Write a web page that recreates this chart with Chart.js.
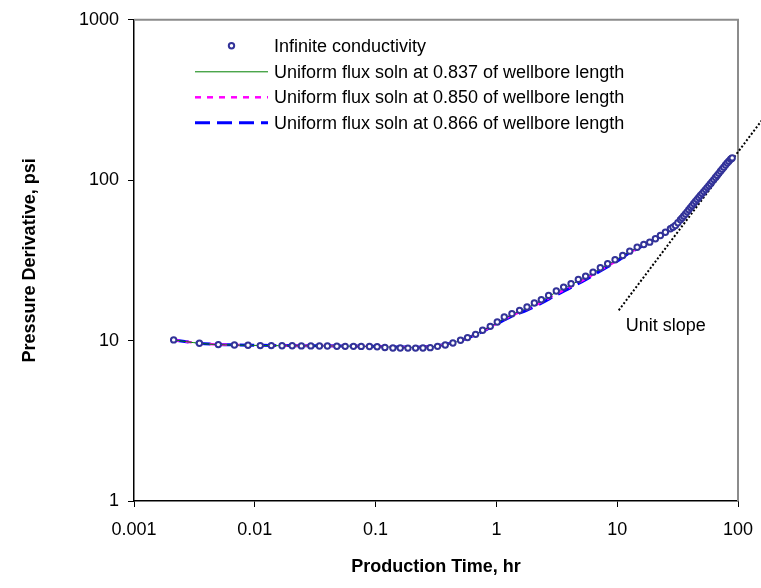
<!DOCTYPE html>
<html>
<head>
<meta charset="utf-8">
<title>Pressure derivative vs production time</title>
<script src="https://cdn.jsdelivr.net/npm/chart.js@4.4.1/dist/chart.umd.min.js"></script>
<style>
  body { margin: 0; background: #fff; }
  #derivChart { display: block; }
</style>
</head>
<body>
<canvas id="derivChart" width="761" height="588"></canvas>
<script>
  // Infinite conductivity solution (hr, psi)
  const infTime = [
    0.00213, 0.00348, 0.00499, 0.00678, 0.00879, 0.0111, 0.0137, 0.0168, 0.0204, 0.0243,
    0.0291, 0.0343, 0.0399, 0.0478, 0.0560, 0.0656, 0.0760, 0.0890, 0.1030, 0.1194,
    0.1391, 0.1600, 0.1853, 0.2143, 0.2466, 0.2833, 0.3258, 0.3773, 0.4365, 0.5047,
    0.5768, 0.6730, 0.7691, 0.8898, 1.017, 1.162, 1.345, 1.556, 1.793, 2.062,
    2.355, 2.706, 3.133, 3.603, 4.150, 4.768, 5.478, 6.310, 7.253, 8.337,
    9.601, 11.11, 12.70, 14.63, 16.60, 18.59, 20.72, 22.79, 25.06, 27.59,
    28.95, 30.35, 31.80, 33.39, 34.46, 35.56, 36.73, 37.94, 39.16, 40.42,
    41.70, 43.03, 44.45, 45.92, 47.37, 48.87, 50.45, 52.08, 53.80, 55.58,
    57.35, 59.17, 61.08, 63.06, 65.12, 67.25, 69.40, 71.62, 73.93, 76.32,
    78.82, 81.41, 84.01, 86.70, 88.10, 89.54
  ];
  const infDeriv = [
    10.1, 9.62, 9.44, 9.39, 9.35, 9.31, 9.31, 9.28, 9.28, 9.27,
    9.27, 9.26, 9.26, 9.22, 9.21, 9.21, 9.20, 9.18, 9.15, 9.05,
    9.00, 8.99, 8.98, 8.98, 8.99, 9.04, 9.21, 9.39, 9.66, 10.04,
    10.44, 10.94, 11.59, 12.27, 13.06, 14.02, 14.72, 15.44, 16.19, 17.14,
    17.99, 19.14, 20.36, 21.56, 22.63, 24.07, 25.23, 26.72, 28.47, 30.14,
    31.92, 33.95, 36.12, 38.23, 39.73, 41.09, 43.13, 45.19, 47.42, 49.77,
    50.9, 52.19, 54.3, 56.62, 58.2, 59.8, 61.6, 63.5, 65.5, 67.5,
    69.4, 71.5, 73.7, 75.8, 78.0, 80.2, 82.5, 84.9, 87.4, 89.9,
    92.5, 95.2, 98.0, 100.9, 104.0, 107.1, 110.3, 113.6, 117.0, 120.6,
    124.3, 128.1, 131.4, 134.9, 136.3, 137.7
  ];

  // Uniform flux solutions at three points along the wellbore
  const fluxTime = [
    0.00213, 0.00348, 0.005, 0.0088, 0.0137, 0.0243, 0.04, 0.065, 0.103, 0.16,
    0.2466, 0.3258, 0.4365, 0.577, 0.769, 1.017, 1.345, 1.793, 2.355, 3.133,
    4.15, 5.478, 7.253, 9.6, 12.7, 16.6, 22.79, 30.35, 40.42, 52.08,
    67.25, 89.54
  ];
  const flux837 = [
    10.1, 9.62, 9.44, 9.35, 9.31, 9.28, 9.26, 9.23, 9.17, 9.08,
    9.07, 9.25, 9.68, 10.42, 11.52, 12.95, 14.55, 16.0, 17.75, 20.05,
    22.3, 24.85, 28.1, 31.6, 35.9, 39.6, 45.1, 52.1, 67.4, 84.8,
    107.0, 137.5
  ];
  const flux850 = [
    10.1, 9.62, 9.45, 9.36, 9.32, 9.29, 9.27, 9.24, 9.18, 9.1,
    9.1, 9.28, 9.7, 10.4, 11.45, 12.85, 14.35, 15.7, 17.35, 19.55,
    21.75, 24.3, 27.5, 31.0, 35.5, 39.4, 45.0, 52.0, 67.3, 84.7,
    106.9, 137.4
  ];
  const flux866 = [
    10.1, 9.63, 9.46, 9.37, 9.33, 9.3, 9.28, 9.25, 9.19, 9.12,
    9.12, 9.3, 9.71, 10.38, 11.4, 12.75, 14.2, 15.5, 17.1, 19.25,
    21.45, 24.0, 27.2, 30.7, 35.3, 39.3, 44.9, 51.9, 67.2, 84.6,
    106.8, 137.3
  ];

  // Unit slope reference line
  const slopeTime = [10.3, 160];
  const slopeDeriv = [15.45, 240];

  const xTicks = [0.001, 0.01, 0.1, 1, 10, 100];
  const yTicks = [1, 10, 100, 1000];

  const toPoints = (xs, ys) => xs.map((x, i) => ({ x: x, y: ys[i] }));

  const FONT = '"Liberation Sans", Arial, Helvetica, sans-serif';
  Chart.defaults.font.family = FONT;
  Chart.defaults.font.size = 18;
  Chart.defaults.color = '#000';

  const legendLabels = [
    'Infinite conductivity',
    'Uniform flux soln at 0.837 of wellbore length',
    'Uniform flux soln at 0.850 of wellbore length',
    'Uniform flux soln at 0.866 of wellbore length'
  ];

  // Gray frame on top/right, legend and the unit slope note
  const chartDecor = {
    id: 'chartDecor',
    beforeDatasetsDraw(chart) {
      const { ctx, chartArea: a } = chart;
      ctx.save();
      ctx.strokeStyle = '#8c8c8c';
      ctx.lineWidth = 2;
      ctx.beginPath();
      ctx.moveTo(a.left, a.top);
      ctx.lineTo(a.right, a.top);
      ctx.lineTo(a.right, a.bottom);
      ctx.stroke();
      ctx.restore();
    },
    afterDraw(chart) {
      const { ctx, chartArea: a, scales } = chart;
      const sets = chart.data.datasets;
      ctx.save();
      ctx.font = '18px ' + FONT;
      ctx.fillStyle = '#000';
      ctx.textBaseline = 'middle';
      ctx.textAlign = 'left';

      const lineX0 = a.left + 61, lineX1 = a.left + 134, textX = a.left + 140;
      const rowY = [a.top + 26, a.top + 52, a.top + 77.5, a.top + 103];

      // marker entry
      const m = sets[0];
      ctx.beginPath();
      ctx.arc((lineX0 + lineX1) / 2, rowY[0], m.pointRadius, 0, Math.PI * 2);
      ctx.fillStyle = m.pointBackgroundColor;
      ctx.fill();
      ctx.lineWidth = m.pointBorderWidth;
      ctx.strokeStyle = m.pointBorderColor;
      ctx.stroke();

      // line entries
      for (let i = 1; i <= 3; i++) {
        const ds = sets[i];
        ctx.beginPath();
        ctx.setLineDash(ds.borderDash || []);
        ctx.lineWidth = ds.borderWidth;
        ctx.strokeStyle = ds.borderColor;
        ctx.moveTo(lineX0, rowY[i]);
        ctx.lineTo(lineX1, rowY[i]);
        ctx.stroke();
      }
      ctx.setLineDash([]);

      ctx.fillStyle = '#000';
      legendLabels.forEach((txt, i) => ctx.fillText(txt, textX, rowY[i] + 1));

      // label under the start of the unit slope line
      const sx = scales.x.getPixelForValue(slopeTime[0]);
      const sy = scales.y.getPixelForValue(slopeDeriv[0]);
      ctx.fillText('Unit slope', sx + 7, sy + 16);
      ctx.restore();
    }
  };

  const ctx = document.getElementById('derivChart').getContext('2d');
  new Chart(ctx, {
    type: 'scatter',
    data: {
      datasets: [
        {
          label: legendLabels[0],
          data: toPoints(infTime, infDeriv),
          showLine: false,
          pointStyle: 'circle',
          pointRadius: 2.7,
          pointBorderWidth: 2,
          pointBorderColor: '#333399',
          pointBackgroundColor: '#ffffff'
        },
        {
          label: legendLabels[1],
          data: toPoints(fluxTime, flux837),
          showLine: true,
          pointRadius: 0,
          borderColor: '#008000',
          borderWidth: 1,
          tension: 0.3
        },
        {
          label: legendLabels[2],
          data: toPoints(fluxTime, flux850),
          showLine: true,
          pointRadius: 0,
          borderColor: '#ff00ff',
          borderWidth: 2.5,
          borderDash: [6, 6],
          tension: 0.3
        },
        {
          label: legendLabels[3],
          data: toPoints(fluxTime, flux866),
          showLine: true,
          pointRadius: 0,
          borderColor: '#0000ff',
          borderWidth: 3,
          borderDash: [15, 7],
          tension: 0.3
        },
        {
          label: 'Unit slope',
          data: toPoints(slopeTime, slopeDeriv),
          showLine: true,
          pointRadius: 0,
          borderColor: '#000',
          borderWidth: 2,
          borderDash: [2, 2],
          clip: false
        }
      ]
    },
    options: {
      responsive: false,
      animation: false,
      layout: { padding: { top: 19, right: 23, bottom: 0, left: 0 } },
      plugins: {
        legend: { display: false },
        tooltip: { enabled: false }
      },
      scales: {
        x: {
          type: 'logarithmic',
          min: 0.001,
          max: 100,
          afterBuildTicks: (scale) => { scale.ticks = xTicks.map(v => ({ value: v })); },
          // fixed axis height, and no extra room reserved for the end labels
          afterFit: (scale) => {
            scale.height = 87;
            scale.paddingLeft = 0;
            scale.paddingRight = 0;
          },
          ticks: {
            autoSkip: false,
            maxRotation: 0,
            padding: 12,
            callback: (v) => String(v)
          },
          grid: { drawOnChartArea: false, drawTicks: true, tickLength: 6, color: '#000', lineWidth: 1 },
          border: { color: '#000', width: 1.5 },
          title: {
            display: true,
            text: 'Production Time, hr',
            font: { size: 18, weight: 'bold' },
            padding: { top: 0, bottom: 10 }
          }
        },
        y: {
          type: 'logarithmic',
          min: 1,
          max: 1000,
          afterBuildTicks: (scale) => { scale.ticks = yTicks.map(v => ({ value: v })); },
          afterFit: (scale) => { scale.width = 134; },
          ticks: {
            autoSkip: false,
            padding: 9,
            callback: (v) => String(v)
          },
          grid: { drawOnChartArea: false, drawTicks: true, tickLength: 6, color: '#000', lineWidth: 1 },
          border: { color: '#000', width: 1.5 },
          title: {
            display: true,
            text: 'Pressure Derivative, psi',
            font: { size: 18, weight: 'bold' },
            padding: { top: 19, bottom: 0 }
          }
        }
      }
    },
    plugins: [chartDecor]
  });
</script>
</body>
</html>
